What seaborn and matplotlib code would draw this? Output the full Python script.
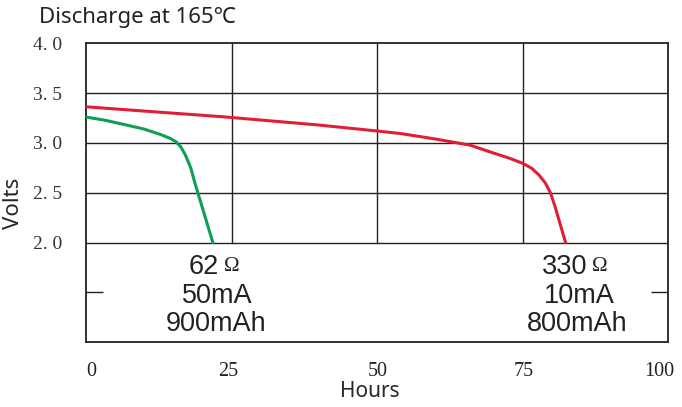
import numpy as np
import matplotlib
matplotlib.use('Agg')
import matplotlib.pyplot as plt
import matplotlib.transforms as mtransforms
import pandas as pd
import seaborn as sns

# discharge curves (hours, volts)
hours_62 = [0, 3.1, 6.5, 10.0, 12.8, 14.5, 15.5, 16.3, 17.1, 18.0, 18.7, 19.6, 20.7, 21.8]
volts_62 = [3.26, 3.23, 3.186, 3.139, 3.085, 3.045, 3.01, 2.96, 2.877, 2.75, 2.60, 2.426, 2.213, 2.00]

hours_330 = [0, 10, 23.7, 40, 50, 54, 60, 66.0, 69.4, 72.9, 75.1, 76.6, 77.8, 78.9, 79.8, 80.6, 81.5, 82.4]
volts_330 = [3.363, 3.32, 3.262, 3.18, 3.12, 3.095, 3.04, 2.978, 2.911, 2.844, 2.794, 2.745, 2.68, 2.60, 2.50, 2.36, 2.18, 2.00]

x_ticks = [0, 25, 50, 75, 100]
y_ticks = [2.0, 2.5, 3.0, 3.5, 4.0]
y_tick_labels = ['2. 0', '2. 5', '3. 0', '3. 5', '4. 0']

labels_62 = ['62', '50mA', '900mAh']
labels_330 = ['330', '10mA', '800mAh']

df62 = pd.DataFrame({'Hours': hours_62, 'Volts': volts_62})
df330 = pd.DataFrame({'Hours': hours_330, 'Volts': volts_330})

sns.set_theme(style='white')
plt.rcParams['font.family'] = ['Liberation Sans', 'DejaVu Sans']

fig = plt.figure(figsize=(6.82, 4.07), dpi=100)
ax = fig.add_axes([0.1261, 0.159, 0.8534, 0.7346])

# grid: horizontal lines full width, vertical only above 2.0
for v in [2.0, 2.5, 3.0, 3.5]:
    ax.axhline(v, color='#222222', lw=1.0, zorder=1)
for h in [25, 50, 75]:
    ax.axvline(h, ymin=1/3, ymax=1, color='#222222', lw=1.0, zorder=1)

sns.lineplot(data=df62, x='Hours', y='Volts', color='#0f9e52', lw=2.2,
             estimator=None, sort=False, ax=ax, zorder=3)
sns.lineplot(data=df330, x='Hours', y='Volts', color='#e01f35', lw=2.2,
             estimator=None, sort=False, ax=ax, zorder=3)

ax.set_xlim(0, 100)
ax.set_ylim(1.0, 4.0)

for s in ax.spines.values():
    s.set_color('#222222')
    s.set_linewidth(1.3)

ax.set_xticks(x_ticks)
ax.set_xticklabels([str(t) for t in x_ticks], family='Liberation Serif', fontsize=14.5)
ax.set_yticks(y_ticks)
ax.set_yticklabels(y_tick_labels, family='Liberation Serif', fontsize=14)
ax.tick_params(axis='x', which='major', length=0, pad=14, colors='#222222')
ax.tick_params(axis='y', which='major', length=0, pad=17, colors='#333333')

# small horizontal nudges of the hour labels, as in the picture
for lab, dx in zip(ax.get_xticklabels(), [5, -3, 1, 1, -9]):
    lab.set_transform(lab.get_transform() +
                      mtransforms.ScaledTranslation(dx / 100, 0, fig.dpi_scale_trans))

ax.set_xticks([25, 50, 75], minor=True)
ax.set_yticks([1.5], minor=True)
ax.tick_params(axis='x', which='minor', direction='in', length=3, width=1, color='#222222', bottom=True)
ax.tick_params(axis='y', which='minor', direction='in', length=12, width=1, color='#222222',
               left=True, right=True)

ax.set_xlabel('Hours', family=['Noto Sans', 'DejaVu Sans'], fontsize=15, va='center')
ax.xaxis.set_label_coords(0.488, -0.166)
ax.set_ylabel('Volts', family=['Noto Sans', 'DejaVu Sans'], fontsize=16, va='center')
ax.yaxis.set_label_coords(-0.125, 0.465)

fs = 19.5
tc = '#222222'
ax.text(20.3, 1.688, labels_62[0], ha='center', va='baseline', fontsize=fs, color=tc)
ax.text(25.0, 1.715, 'Ω', ha='center', va='baseline', fontsize=15, color=tc,
        family=['Liberation Serif', 'DejaVu Sans'])
ax.text(22.6, 1.393, labels_62[1], ha='center', va='baseline', fontsize=fs, color=tc)
ax.text(22.4, 1.109, labels_62[2], ha='center', va='baseline', fontsize=fs, color=tc)

ax.text(82.3, 1.688, labels_330[0], ha='center', va='baseline', fontsize=fs, color=tc)
ax.text(88.3, 1.715, 'Ω', ha='center', va='baseline', fontsize=15, color=tc,
        family=['Liberation Serif', 'DejaVu Sans'])
ax.text(84.7, 1.393, labels_330[1], ha='center', va='baseline', fontsize=fs, color=tc)
ax.text(84.45, 1.109, labels_330[2], ha='center', va='baseline', fontsize=fs, color=tc)

fig.text(39 / 682, 1 - 22.7 / 407, 'Discharge at 165℃', ha='left', va='baseline', fontsize=16,
         color=tc, family=['Noto Sans', 'DejaVu Sans'])

fig.savefig('out.png', dpi=100)
